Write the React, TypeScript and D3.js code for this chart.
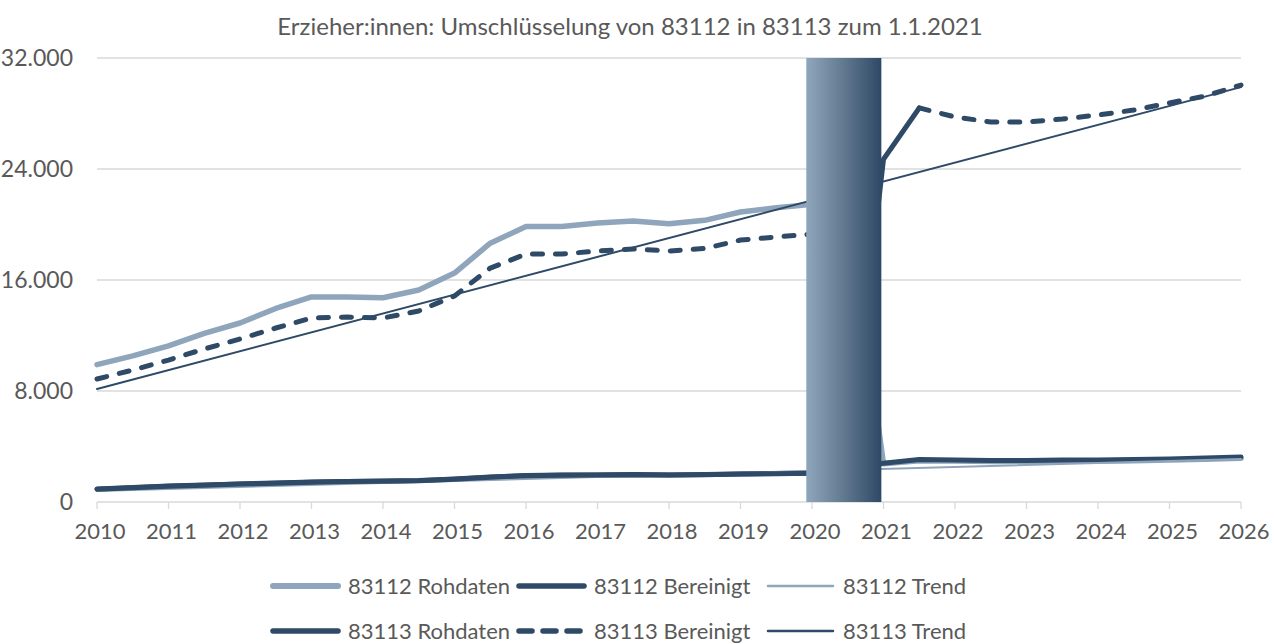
import React from "react";
import * as d3 from "d3";

// ---------- data ----------
const years: number[] = [
  2010, 2010.5, 2011, 2011.5, 2012, 2012.5, 2013, 2013.5, 2014, 2014.5, 2015,
  2015.5, 2016, 2016.5, 2017, 2017.5, 2018, 2018.5, 2019, 2019.5, 2020, 2020.5,
  2021, 2021.5, 2022, 2022.5, 2023, 2023.5, 2024, 2024.5, 2025, 2025.5, 2026,
];

const rohdaten83112: (number | null)[] = [
  9900, 10530, 11250, 12150, 12900, 13950, 14780, 14780, 14720, 15280, 16500,
  18650, 19850, 19850, 20100, 20250, 20050, 20300, 20900, 21200, 21450, 21700,
  2750, 2980, 2950, 2910, 2910, 2950, 2950, 2980, 3020, 3090, 3160,
];

const bereinigt83112: (number | null)[] = [
  940, 1045, 1150, 1225, 1300, 1370, 1440, 1480, 1510, 1550, 1650,
  1800, 1910, 1945, 1950, 1980, 1950, 1980, 2020, 2050, 2090, 2120,
  2800, 3060, 3030, 2990, 2990, 3030, 3030, 3060, 3100, 3170, 3240,
];

const rohdaten83113: (number | null)[] = [
  920, 1020, 1130, 1210, 1290, 1360, 1430, 1470, 1500, 1540, 1640,
  1790, 1900, 1930, 1940, 1970, 1940, 1970, 2010, 2040, 2080, 2110,
  24700, 28400, null, null, null, null, null, null, null, null, null,
];

const bereinigt83113: (number | null)[] = [
  8865, 9510, 10230, 11030, 11750, 12540, 13260, 13330, 13260, 13770, 14850,
  16860, 17870, 17870, 18090, 18230, 18090, 18270, 18880, 19100, 19315, 19460,
  null, 28400, 27750, 27390, 27390, 27600, 27890, 28250, 28760, 29260, 30050,
];

const trendYears: number[] = [2010, 2026];
const trend83112: number[] = [800, 3100];
const trend83113: number[] = [8150, 29900];

const yTicks: number[] = [0, 8000, 16000, 24000, 32000];
const xTicks: number[] = [
  2010, 2011, 2012, 2013, 2014, 2015, 2016, 2017, 2018, 2019, 2020, 2021,
  2022, 2023, 2024, 2025, 2026,
];
const bandRange: number[] = [2019.92, 2020.97];

const title = "Erzieher:innen: Umschlüsselung von 83112 in 83113 zum 1.1.2021";

// ---------- styling ----------
const LIGHT = "#8fa5bb";
const DARK = "#2e4a67";
const TEXT = "#595959";
const GRID = "#d9d9d9";
const FONT = "Lato, 'Noto Sans', sans-serif";

type Series = {
  name: string;
  xs: number[];
  vs: (number | null)[];
  color: string;
  width: number;
  dash?: string;
  legendDash?: string;
};

const series: Series[] = [
  { name: "83112 Rohdaten", xs: years, vs: rohdaten83112, color: LIGHT, width: 5.5 },
  { name: "83112 Bereinigt", xs: years, vs: bereinigt83112, color: DARK, width: 5 },
  { name: "83112 Trend", xs: trendYears, vs: trend83112, color: LIGHT, width: 2 },
  { name: "83113 Rohdaten", xs: years, vs: rohdaten83113, color: DARK, width: 5 },
  {
    name: "83113 Bereinigt",
    xs: years,
    vs: bereinigt83113,
    color: DARK,
    width: 5,
    dash: "10 13",
    legendDash: "13 11",
  },
  { name: "83113 Trend", xs: trendYears, vs: trend83113, color: DARK, width: 2 },
];

export default function App() {
  const W = 1274;
  const H = 644;
  const x = d3.scaleLinear().domain([2010, 2026]).range([97, 1241]);
  const y = d3.scaleLinear().domain([0, 32000]).range([502, 58]);

  const makePath = (s: Series) => {
    const pts = s.xs.map((xv, i) => ({ x: xv, v: s.vs[i] }));
    const line = d3
      .line<{ x: number; v: number | null }>()
      .defined((d) => d.v !== null)
      .x((d) => x(d.x))
      .y((d) => y(d.v as number))
      .curve(d3.curveLinear);
    return line(pts) || "";
  };

  const legendCols = [270, 516, 765];
  const legendRows = [586, 631];
  const sampleLen = 71;

  return (
    <svg
      width={W}
      height={H}
      style={{ position: "absolute", left: 0, top: 0, background: "#fff" }}
      fontFamily={FONT}
    >
      <defs>
        <linearGradient id="bandGrad" x1="0" x2="1" y1="0" y2="0">
          <stop offset="0%" stopColor="#90a6bd" />
          <stop offset="50%" stopColor="#61798f" />
          <stop offset="100%" stopColor="#2e4966" />
        </linearGradient>
      </defs>
      <rect x={0} y={0} width={W} height={H} fill="#fff" />

      {/* title */}
      <text x={630} y={27} dy="0.35em" textAnchor="middle" fontSize={24} fill={TEXT}>
        {title}
      </text>

      {/* grid */}
      {yTicks.map((t) => (
        <line
          key={"g" + t}
          x1={x(2010)}
          x2={x(2026)}
          y1={y(t)}
          y2={y(t)}
          stroke={GRID}
          strokeWidth={1.3}
        />
      ))}
      {yTicks.map((t) => (
        <text
          key={"yl" + t}
          x={73}
          y={y(t)}
          dy="0.35em"
          textAnchor="end"
          fontSize={23}
          fill={TEXT}
        >
          {d3.format(",")(t).replace(/,/g, ".")}
        </text>
      ))}

      {/* x ticks */}
      {xTicks.map((t) => (
        <g key={"x" + t}>
          <line
            x1={x(t)}
            x2={x(t)}
            y1={y(0)}
            y2={y(0) + 7}
            stroke={GRID}
            strokeWidth={1.3}
          />
          <text
            x={x(t) + 3}
            y={y(0) + 29}
            dy="0.35em"
            textAnchor="middle"
            fontSize={22}
            fill={TEXT}
          >
            {t}
          </text>
        </g>
      ))}

      {/* lines */}
      {series.map((s) => (
        <path
          key={s.name}
          d={makePath(s)}
          fill="none"
          stroke={s.color}
          strokeWidth={s.width}
          strokeDasharray={s.dash}
          strokeLinecap="round"
          strokeLinejoin="round"
        />
      ))}

      {/* band */}
      <rect
        x={x(bandRange[0])}
        y={y(32000)}
        width={x(bandRange[1]) - x(bandRange[0])}
        height={y(0) - y(32000)}
        fill="url(#bandGrad)"
      />

      {/* legend */}
      {series.map((s, i) => {
        const cx = legendCols[i % 3];
        const cy = legendRows[Math.floor(i / 3)];
        return (
          <g key={"leg" + s.name}>
            <line
              x1={cx + 3}
              x2={cx + sampleLen - 3}
              y1={cy}
              y2={cy}
              stroke={s.color}
              strokeWidth={s.width + 0.5}
              strokeDasharray={s.legendDash}
              strokeLinecap="round"
            />
            <text
              x={cx + sampleLen + 7}
              y={cy}
              dy="0.35em"
              fontSize={22}
              fill={TEXT}
            >
              {s.name}
            </text>
          </g>
        );
      })}
    </svg>
  );
}
